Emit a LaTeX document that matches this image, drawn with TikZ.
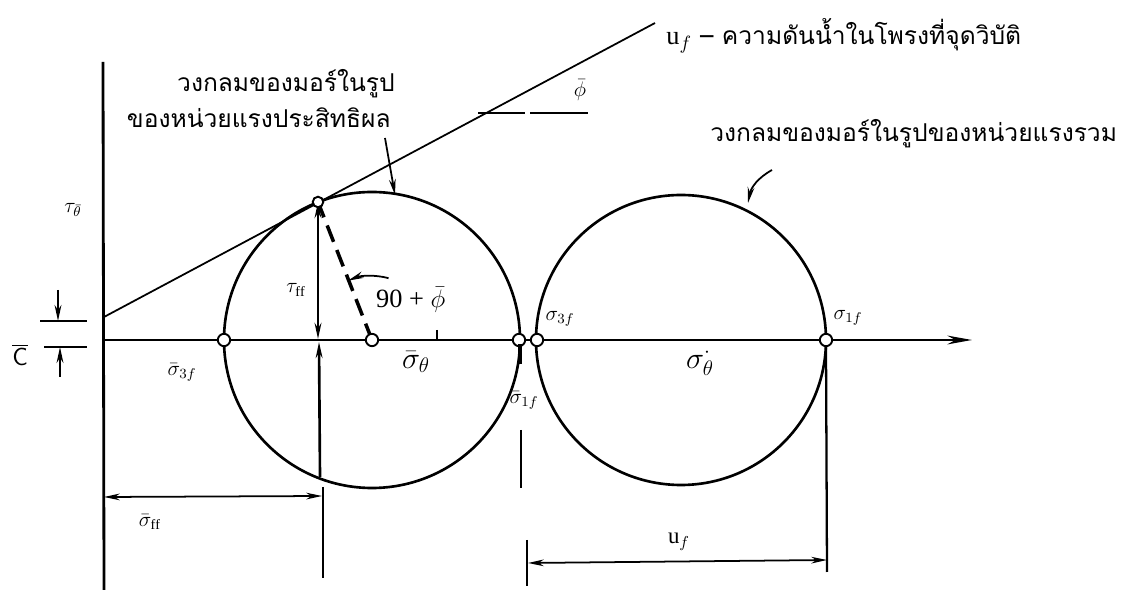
\documentclass[tikz,border=0pt]{standalone}
\usepackage{fontspec}
\setmainfont{Liberation Serif}
\newfontfamily\thaifont[Script=Thai]{Loma}
\usetikzlibrary{arrows.meta,calc}
\begin{document}
\begin{tikzpicture}[x=0.02cm,y=-0.02cm,
  axisline/.style={line width=1.6pt},
  circline/.style={line width=1.5pt},
  envline/.style={line width=1pt},
  dimline/.style={line width=1pt},
  tipend/.style={-{Stealth[length=9pt,width=3.8pt]}},
  tipboth/.style={{Stealth[length=9pt,width=3.8pt]}-{Stealth[length=9pt,width=3.8pt]}},
  pt/.style={circle,draw,line width=1.1pt,fill=white,inner sep=0pt,minimum size=7pt},
  thai/.style={font=\thaifont\fontsize{14}{17}\selectfont,inner sep=0pt},
  lab/.style={font=\fontsize{11.5}{13}\selectfont,inner sep=1pt},
  biglab/.style={font=\fontsize{17}{20}\selectfont,inner sep=1pt},
]
\useasboundingbox (0,0) rectangle (1126,590);
% axes
\coordinate (vtop) at (103,62);
\coordinate (vbot) at (104,590);
\coordinate (O) at (103,340);
\coordinate (xend) at (972,340);
\draw[axisline] (vtop) -- (vbot);
\draw[axisline,-{Stealth[length=14pt,width=5pt]}] (O) -- (xend);
% circles
\coordinate (C1) at (372,340);
\coordinate (C2) at (681,340);
\draw[circline] (C1) circle[radius=148];
\draw[circline] (C2) circle[radius=145];
% envelope
\coordinate (E0) at (104,317);
\coordinate (T) at (318,202);
\coordinate (E2) at (655,23);
\draw[envline] (E0) -- (E2);
% phi reference line
\coordinate (ph1) at (478,113);
\coordinate (ph2) at (525,113);
\coordinate (ph3) at (530,113);
\coordinate (ph4) at (588,113);
\draw[envline] (ph1) -- (ph2) (ph3) -- (ph4);
\node[lab,font=\fontsize{13}{15}\selectfont] (phil) at (580,90) {$\bar{\phi}$};
% c dimension
\coordinate (cl1a) at (40,321); \coordinate (cl1b) at (87,321);
\coordinate (cl2a) at (44,347); \coordinate (cl2b) at (87,347);
\draw[dimline] (cl1a) -- (cl1b);
\draw[dimline] (cl2a) -- (cl2b);
\coordinate (ca1) at (58,290); \coordinate (ca2) at (58,321);
\coordinate (cb1) at (60,377); \coordinate (cb2) at (60,347);
\draw[line width=1.4pt,tipend] (ca1) -- (ca2);
\draw[line width=1.4pt,tipend] (cb1) -- (cb2);
\node[font=\sffamily\fontsize{14}{16}\selectfont] (cbar) at (20,355) {$\overline{\mbox{C}}$};
\node[lab] (tautheta) at (73,210) {$\tau_{\bar{\theta}}$};
% tau_ff and dashed radius
\draw[line width=1.5pt,tipboth] (T) -- (318,339);
\coordinate (tb) at (320,477);
\draw[line width=1.5pt,tipend] (tb) -- (319,342);
\draw[line width=2pt,dash pattern=on 10pt off 5pt] (C1) -- (T);
\node[lab] (tauff) at (296,290) {$\tau_{\mathrm{ff}}$};
% angle arc
\draw[line width=1pt,tipend] ($(C1)+(-75:64)$) arc[start angle=-75,end angle=-112,radius=64];
\node[font=\fontsize{15}{18}\selectfont,anchor=base west] (ang) at (370,308) {90 + $\bar{\phi}$};
\coordinate (tk1) at (437,330); \coordinate (tk2) at (437,340);
\draw[line width=1pt] (tk1) -- (tk2);
% points
\node[pt] (s3fb) at (224,340) {};
\node[pt] (c1) at (C1) {};
\node[pt] (s1fb) at (519,340) {};
\node[pt] (s3f) at (537,340) {};
\node[pt] (s1f) at (826,340) {};
\node[pt,minimum size=6pt] (tp) at (T) {};
% labels on axis
\node[lab] (l3fb) at (182,372) {$\bar{\sigma}_{3f}$};
\node[biglab] (lsth) at (416,362) {$\bar{\sigma}_{\theta}$};
\node[lab] (l3f) at (560,319) {$\sigma_{3f}$};
\node[lab] (l1fb) at (524,400) {$\bar{\sigma}_{1f}$};
\node[lab] (l1f) at (848,318) {$\sigma_{1f}$};
\node[biglab] (lsth2) at (700,362) {$\sigma^{\cdot}_{\theta}$};
% sigma1f-bar marks
\coordinate (m1) at (520,344); \coordinate (m2) at (520,364);
\draw[line width=2.2pt] (m1) -- (m2);
\coordinate (m3) at (521,430); \coordinate (m4) at (521,488);
\draw[line width=1.2pt] (m3) -- (m4);
% sigma_ff dimension
\coordinate (d1) at (104,497); \coordinate (d2) at (322,496);
\draw[dimline,tipboth] (d1) -- (d2);
\coordinate (e1) at (323,487); \coordinate (e2) at (323,578);
\draw[line width=1.3pt] (e1) -- (e2);
\node[lab] (lsff) at (150,522) {$\bar{\sigma}_{\mathrm{ff}}$};
% u_f dimension
\coordinate (u1) at (528,563); \coordinate (u2) at (827,560);
\draw[dimline,tipboth] (u1) -- (u2);
\coordinate (ut1) at (527,540); \coordinate (ut2) at (527,586);
\draw[line width=1.3pt] (ut1) -- (ut2);
\coordinate (ue) at (827,572);
\draw[line width=1.3pt] (s1f.south) -- (ue);
\node[lab,font=\fontsize{13}{15}\selectfont] (luf) at (679,542) {u$_{f}$};
% texts and pointers
\node[thai,anchor=base east] (t1) at (395,92) {วงกลมของมอร์ในรูป};
\node[thai,anchor=base east] (t2) at (391,128) {ของหน่วยแรงประสิทธิผล};
\coordinate (p1) at (385,138); \coordinate (p2) at (395,195);
\draw[dimline,tipend] (p1) -- (p2);
\node[thai,anchor=base west] (t3) at (666,45) {{\rmfamily\fontsize{15}{17}\selectfont u$_f$} – ความดันน้ำในโพรงที่จุดวิบัติ};
\node[thai,anchor=base west] (t4) at (710,142) {วงกลมของมอร์ในรูปของหน่วยแรงรวม};
\coordinate (q1) at (772,170); \coordinate (q2) at (748,203);
\draw[dimline,tipend] (q1) to[bend right=25] (q2);
\end{tikzpicture}
\end{document}
